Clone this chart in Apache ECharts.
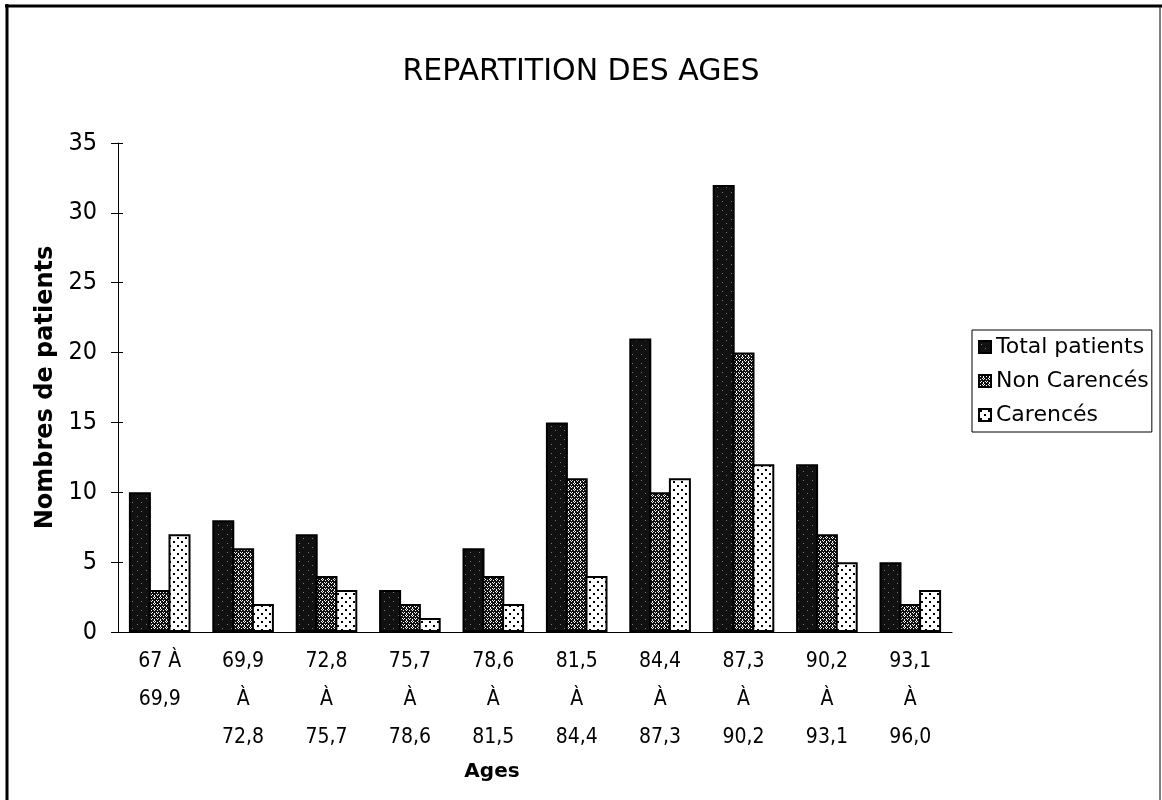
<!DOCTYPE html>
<html>
<head>
<meta charset="utf-8">
<script src="https://cdn.jsdelivr.net/npm/echarts@6/dist/echarts.min.js"></script>
<style>html,body{margin:0;padding:0;background:#fff}#c{width:1162px;height:800px}</style>
</head>
<body>
<div id="c"></div>
<script>
const categories = ['67 À\n69,9', '69,9\nÀ\n72,8', '72,8\nÀ\n75,7', '75,7\nÀ\n78,6', '78,6\nÀ\n81,5', '81,5\nÀ\n84,4', '84,4\nÀ\n87,3', '87,3\nÀ\n90,2', '90,2\nÀ\n93,1', '93,1\nÀ\n96,0'];
const totalPatients = [10, 8, 7, 3, 6, 15, 21, 32, 12, 5];
const nonCarences = [3, 6, 4, 2, 4, 11, 10, 20, 7, 2];
const carences = [7, 2, 3, 1, 2, 4, 11, 12, 5, 3];
const seriesNames = ['Total patients', 'Non Carencés', 'Carencés'];

function pat(fn, w, h) {
  const c = document.createElement('canvas'); c.width = w; c.height = h;
  const g = c.getContext('2d'); fn(g); return { image: c, repeat: 'repeat' };
}
const darkPat = pat(g => {
  g.fillStyle = '#111'; g.fillRect(0, 0, 9, 9);
  g.fillStyle = '#777'; g.fillRect(2, 3, 1, 1); g.fillRect(6, 7, 1, 1);
}, 9, 9);
const hatchPat = pat(g => {
  g.fillStyle = '#111'; g.fillRect(0, 0, 6, 6);
  g.fillStyle = '#fff';
  g.fillRect(0, 0, 1, 1); g.fillRect(2, 0, 1, 1); g.fillRect(1, 1, 1, 1);
  g.fillRect(4, 2, 1, 1); g.fillRect(3, 3, 1, 1); g.fillRect(5, 3, 1, 1); g.fillRect(4, 4, 1, 1);
  g.fillRect(1, 4, 1, 1); g.fillRect(4, 1, 1, 1);
}, 6, 6);
const dotPat = pat(g => {
  g.fillStyle = '#fff'; g.fillRect(0, 0, 8, 8);
  g.fillStyle = '#000'; g.fillRect(1, 1, 2, 2); g.fillRect(5, 5, 2, 2);
}, 8, 8);

const chart = echarts.init(document.getElementById('c'), null, { renderer: 'canvas' });
const narrow = "'DejaVu Sans Condensed', sans-serif";
const bar = (name, data, fill) => ({
  name, type: 'bar', data, barWidth: 22, barGap: '-10%',
  itemStyle: { color: fill, borderColor: '#000', borderWidth: 2 },
  emphasis: { disabled: true }
});
chart.setOption({
  animation: false,
  backgroundColor: '#fff',
  title: {
    text: 'REPARTITION DES AGES', left: 'center', top: 52,
    textStyle: { fontFamily: 'DejaVu Sans', fontSize: 30, fontWeight: 'normal', color: '#000' }
  },
  legend: {
    orient: 'vertical', left: 972, top: 330, itemGap: 12,
    itemWidth: 12, itemHeight: 12, icon: 'rect',
    padding: [6, 3, 6, 6], borderColor: '#000', borderWidth: 1,
    textStyle: { fontFamily: 'DejaVu Sans', fontSize: 22, color: '#000', padding: [0, 0, 0, 0] },
    data: seriesNames
  },
  grid: { left: 118, top: 143, width: 834, height: 489 },
  xAxis: [{
    type: 'category', data: categories,
    name: 'Ages', nameLocation: 'middle', nameGap: 129,
    nameTextStyle: { fontFamily: 'DejaVu Sans', fontWeight: 'bold', fontSize: 20, color: '#000', padding: [0, 86, 0, 0] },
    axisLine: { lineStyle: { color: '#000', width: 1 } },
    axisTick: { length: 6, lineStyle: { color: '#000' } },
    axisLabel: { fontFamily: narrow, fontSize: 21, color: '#000', lineHeight: 38, margin: 11, interval: 0 }
  }, {
    type: 'category', data: categories, position: 'bottom',
    axisLine: { show: false },
    axisTick: { inside: true, length: 4, lineStyle: { color: '#000' } },
    axisLabel: { show: false }
  }],
  yAxis: [{
    type: 'value', min: 0, max: 35, interval: 5,
    name: 'Nombres de patients', nameLocation: 'middle', nameGap: 60,
    nameTextStyle: { fontFamily: 'DejaVu Sans', fontWeight: 'bold', fontSize: 24, color: '#000' },
    splitLine: { show: false },
    axisLine: { show: true, lineStyle: { color: '#000', width: 1 } },
    axisTick: { show: true, length: 7, lineStyle: { color: '#000' } },
    axisLabel: { fontFamily: narrow, fontSize: 25, color: '#000', margin: 21 }
  }, {
    type: 'value', min: 0, max: 35, interval: 5, position: 'left',
    splitLine: { show: false }, axisLine: { show: false },
    axisTick: { show: true, inside: true, length: 5, lineStyle: { color: '#000' } },
    axisLabel: { show: false }
  }],
  series: [
    bar(seriesNames[0], totalPatients, darkPat),
    bar(seriesNames[1], nonCarences, hatchPat),
    bar(seriesNames[2], carences, dotPat)
  ],
  graphic: [
    { type: 'line', shape: { x1: 7, y1: 4, x2: 7, y2: 800 }, style: { stroke: '#000', lineWidth: 3 } },
    { type: 'line', shape: { x1: 5, y1: 6, x2: 1162, y2: 6 }, style: { stroke: '#000', lineWidth: 3 } },
    { type: 'line', shape: { x1: 1160, y1: 6, x2: 1160, y2: 800 }, style: { stroke: '#000', lineWidth: 1 } }
  ]
});
</script>
</body>
</html>
